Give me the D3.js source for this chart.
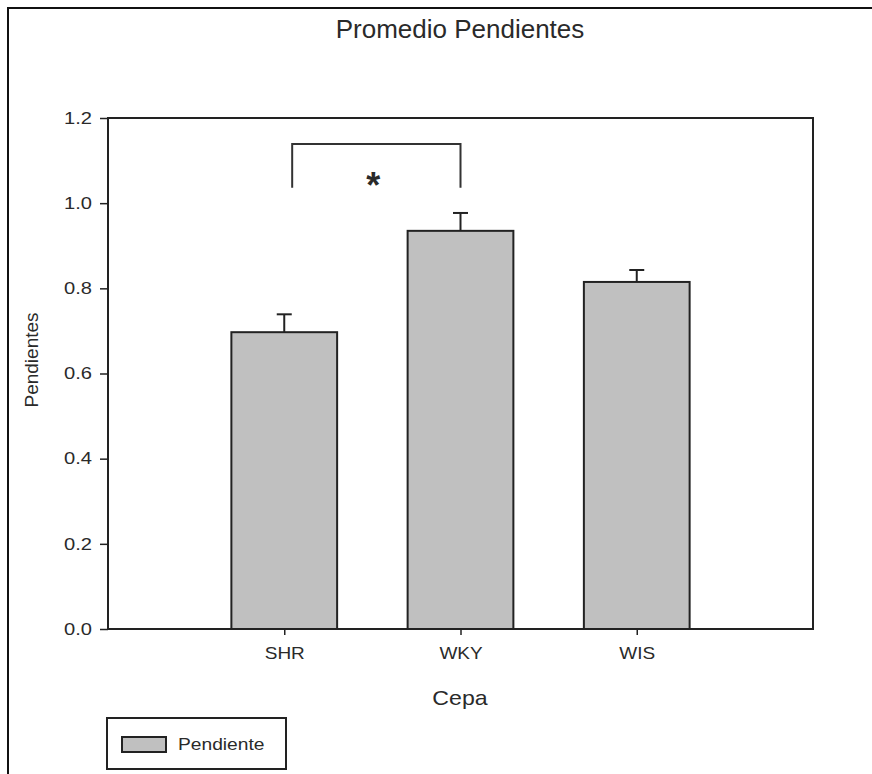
<!DOCTYPE html>
<html>
<head>
<meta charset="utf-8">
<script src="https://cdn.jsdelivr.net/npm/d3@7"></script>
<style>
    body { margin: 0; background: #fff; }
    svg text { font-family: Arial, "Liberation Sans", sans-serif; fill: #2a2a2a; }
</style>
</head>
<body>
<svg id="chart" width="872" height="774"></svg>
<script>
// data
var categories = ['SHR', 'WKY', 'WIS'];
var means = [0.697, 0.935, 0.815];
var errors = [0.042, 0.042, 0.028];
var yTicks = [0.0, 0.2, 0.4, 0.6, 0.8, 1.0, 1.2];
var bracketIdx = [0.045, 1];      // in category index units
var bracketY = [1.036, 1.139];
var seriesName = 'Pendiente';

var W = 872, H = 774;
var plot = { left: 108, right: 813, top: 118, bottom: 629 };

var svg = d3.select('#chart');

// widen a text selection horizontally (the source picture is a bit stretched)
function stretch(sel, k) {
    sel.each(function () {
        var len = this.getComputedTextLength();
        d3.select(this).attr('textLength', len * k).attr('lengthAdjust', 'spacingAndGlyphs');
    });
}

var y = d3.scaleLinear().domain([0, 1.2]).range([plot.bottom, plot.top]);
var x = d3.scalePoint().domain(categories).range([plot.left, plot.right]).padding(1);
var xi = d3.scaleLinear().domain([-1, categories.length]).range([plot.left, plot.right]);
var barW = x.step() * 0.6;

// outer frame (only top and left edge visible)
svg.append('path')
    .attr('d', 'M8,' + H + 'V8H' + W)
    .attr('fill', 'none').attr('stroke', '#111').attr('stroke-width', 2);

// title
svg.append('text')
    .attr('x', 460).attr('y', 38)
    .attr('text-anchor', 'middle')
    .attr('font-size', 26)
    .text('Promedio Pendientes');

// bars
var rows = categories.map(function (c, i) { return { cat: c, mean: means[i], err: errors[i] }; });

svg.append('g').selectAll('rect').data(rows).enter().append('rect')
    .attr('x', function (d) { return x(d.cat) - barW / 2; })
    .attr('y', function (d) { return y(d.mean); })
    .attr('width', barW)
    .attr('height', function (d) { return y(0) - y(d.mean); })
    .attr('fill', '#c0c0c0')
    .attr('stroke', '#222').attr('stroke-width', 2);

// error bars (upper side only)
var eb = svg.append('g').attr('stroke', '#222').attr('stroke-width', 2);
eb.selectAll('line.v').data(rows).enter().append('line').attr('class', 'v')
    .attr('x1', function (d) { return x(d.cat); })
    .attr('x2', function (d) { return x(d.cat); })
    .attr('y1', function (d) { return y(d.mean); })
    .attr('y2', function (d) { return y(d.mean + d.err); });
eb.selectAll('line.c').data(rows).enter().append('line').attr('class', 'c')
    .attr('x1', function (d) { return x(d.cat) - 7.5; })
    .attr('x2', function (d) { return x(d.cat) + 7.5; })
    .attr('y1', function (d) { return y(d.mean + d.err); })
    .attr('y2', function (d) { return y(d.mean + d.err); });

// plot frame
svg.append('rect')
    .attr('x', plot.left).attr('y', plot.top)
    .attr('width', plot.right - plot.left).attr('height', plot.bottom - plot.top)
    .attr('fill', 'none').attr('stroke', '#222').attr('stroke-width', 2);

// y axis
var ya = svg.append('g').attr('transform', 'translate(' + plot.left + ',0)')
    .call(d3.axisLeft(y).tickValues(yTicks).tickFormat(d3.format('.1f')).tickSize(8).tickPadding(8));
ya.select('.domain').remove();
ya.selectAll('line').attr('stroke', '#222').attr('stroke-width', 1.5);
ya.selectAll('text').attr('font-size', 16.5).attr('fill', '#2a2a2a').attr('font-family', 'Arial, "Liberation Sans", sans-serif');
stretch(ya.selectAll('text'), 1.22);

// x axis
var xa = svg.append('g').attr('transform', 'translate(0,' + plot.bottom + ')')
    .call(d3.axisBottom(x).tickSize(6).tickPadding(12));
xa.select('.domain').remove();
xa.selectAll('line').attr('stroke', '#222').attr('stroke-width', 1.5);
xa.selectAll('text').attr('font-size', 16.5).attr('fill', '#2a2a2a').attr('font-family', 'Arial, "Liberation Sans", sans-serif');
stretch(xa.selectAll('text'), 1.15);

// axis titles
var xt = svg.append('text')
    .attr('x', 460).attr('y', 705)
    .attr('text-anchor', 'middle')
    .attr('font-size', 21)
    .text('Cepa');
stretch(xt, 1.1);

svg.append('text')
    .attr('transform', 'translate(38,360) rotate(-90)')
    .attr('text-anchor', 'middle')
    .attr('font-size', 19)
    .text('Pendientes');

// significance bracket
var bx0 = xi(bracketIdx[0]), bx1 = xi(bracketIdx[1]);
svg.append('path')
    .attr('d', 'M' + bx0 + ',' + y(bracketY[0]) + 'V' + y(bracketY[1]) + 'H' + bx1 + 'V' + y(bracketY[0]))
    .attr('fill', 'none').attr('stroke', '#333').attr('stroke-width', 2);
svg.append('text')
    .attr('x', (bx0 + bx1) / 2 - 3).attr('y', 198)
    .attr('text-anchor', 'middle')
    .attr('font-size', 36)
    .attr('font-weight', 'bold')
    .text('*');

// legend
var lg = svg.append('g');
lg.append('rect')
    .attr('x', 107).attr('y', 718).attr('width', 179).attr('height', 51)
    .attr('fill', '#fff').attr('stroke', '#222').attr('stroke-width', 2);
lg.append('rect')
    .attr('x', 122).attr('y', 737).attr('width', 44).attr('height', 15)
    .attr('fill', '#c0c0c0').attr('stroke', '#222').attr('stroke-width', 2);
var lt = lg.append('text')
    .attr('x', 178).attr('y', 750)
    .attr('font-size', 16)
    .text(seriesName);
stretch(lt, 1.2);
</script>
</body>
</html>
